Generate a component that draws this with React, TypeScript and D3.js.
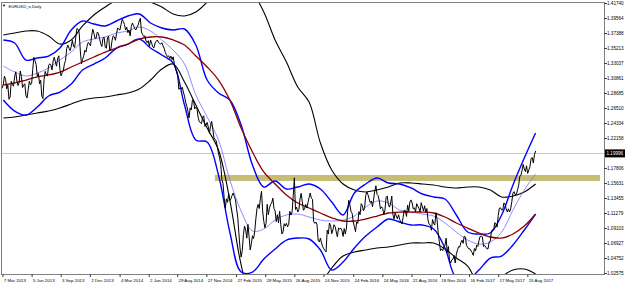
import React from "react";
import * as d3 from "d3";

// ---- data ----
const title = "EURUSD_e,Daily";
const firstWeek = "2013-03-08"; // weekly closes start here, one value per week
const closes = [
  // 2013
  1.3005, 1.3075, 1.299, 1.2815, 1.3, 1.311, 1.305, 1.303, 1.3115, 1.299, 1.2835, 1.293, 1.2995,
  1.322, 1.3345, 1.312, 1.301, 1.283, 1.307, 1.314, 1.3275, 1.328, 1.334, 1.3325, 1.338, 1.322,
  1.317, 1.33, 1.3525, 1.3525, 1.3555, 1.355, 1.3685, 1.38, 1.3485, 1.3365, 1.3495, 1.3555, 1.359,
  1.3705, 1.3745, 1.3675, 1.374,
  // 2014
  1.359, 1.367, 1.354, 1.368, 1.3485, 1.3635, 1.369, 1.374, 1.38, 1.387, 1.391, 1.379, 1.375,
  1.3705, 1.389, 1.381, 1.383, 1.392, 1.376, 1.3695, 1.363, 1.3635, 1.3645, 1.3545, 1.36, 1.3645,
  1.3595, 1.3605, 1.3525, 1.343, 1.3415, 1.341, 1.34, 1.324, 1.313, 1.295, 1.296, 1.283, 1.2685,
  1.2515, 1.263, 1.276, 1.267, 1.2525, 1.245, 1.2525, 1.239, 1.245, 1.229, 1.2465, 1.2225, 1.218,
  // 2015
  1.2, 1.184, 1.1565, 1.1205, 1.129, 1.1315, 1.139, 1.1375, 1.1195, 1.0845, 1.0495, 1.082, 1.089,
  1.097, 1.06, 1.0805, 1.087, 1.12, 1.12, 1.145, 1.1015, 1.0985, 1.111, 1.126, 1.135, 1.1165,
  1.111, 1.116, 1.083, 1.098, 1.0985, 1.097, 1.1105, 1.1385, 1.1185, 1.115, 1.134, 1.13, 1.1195,
  1.121, 1.136, 1.135, 1.1015, 1.1005, 1.074, 1.077, 1.0645, 1.059, 1.0885, 1.099, 1.0835, 1.0965,
  // 2016
  1.086, 1.092, 1.0915, 1.0795, 1.083, 1.1155, 1.1255, 1.113, 1.0935, 1.1005, 1.1155, 1.127, 1.117,
  1.139, 1.14, 1.1285, 1.1225, 1.1455, 1.1405, 1.131, 1.1225, 1.1115, 1.1365, 1.1255, 1.128, 1.1115,
  1.1135, 1.105, 1.104, 1.0975, 1.1175, 1.1085, 1.116, 1.1325, 1.1195, 1.1155, 1.1235, 1.115, 1.1225,
  1.124, 1.12, 1.097, 1.0885, 1.0985, 1.114, 1.085, 1.059, 1.059, 1.0665, 1.056, 1.045, 1.0455, 1.052,
  // 2017
  1.053, 1.0645, 1.0705, 1.0695, 1.0785, 1.064, 1.0615, 1.056, 1.062, 1.067, 1.0735, 1.08, 1.065,
  1.064, 1.0615, 1.0725, 1.0895, 1.0995, 1.093, 1.1205, 1.118, 1.128, 1.1195, 1.1195, 1.1195, 1.1425,
  1.14, 1.147, 1.1665, 1.175, 1.1775, 1.182, 1.176, 1.1925, 1.186, 1.2035,
];
// mid-week closes (one per week, half a week before each weekly close)
const midweek = [
  // 2013
  1.2945, 1.312, 1.2935, 1.2785, 1.3045, 1.2975, 1.3185, 1.2985, 1.3195, 1.2955, 1.301, 1.2805, 1.3045,
  1.301, 1.3395, 1.329, 1.316, 1.306, 1.2795, 1.319, 1.3125, 1.33, 1.321, 1.3395, 1.3265, 1.3415,
  1.3125, 1.32, 1.335, 1.357, 1.349, 1.364, 1.3535, 1.381, 1.3755, 1.33, 1.341, 1.347, 1.361,
  1.356, 1.38, 1.3665, 1.376,
  // 2014
  1.3665, 1.355, 1.3685, 1.3525, 1.37, 1.3515, 1.3705, 1.364, 1.382, 1.379, 1.3945, 1.387, 1.383,
  1.379, 1.384, 1.3855, 1.379, 1.386, 1.396, 1.3725, 1.3705, 1.3605, 1.355, 1.3595, 1.353, 1.3625,
  1.361, 1.3585, 1.356, 1.3465, 1.34, 1.3375, 1.336, 1.33, 1.318, 1.293, 1.2935, 1.289, 1.274,
  1.2615, 1.266, 1.2775, 1.2645, 1.265, 1.246, 1.243, 1.2545, 1.241, 1.2385, 1.24, 1.235, 1.2205,
  // 2015
  1.2095, 1.1935, 1.162, 1.136, 1.134, 1.1415, 1.134, 1.1425, 1.1325, 1.1075, 1.063, 1.059, 1.0945,
  1.077, 1.0795, 1.069, 1.0765, 1.105, 1.126, 1.1345, 1.1165, 1.092, 1.126, 1.1205, 1.128, 1.12,
  1.101, 1.099, 1.0965, 1.086, 1.0945, 1.0935, 1.116, 1.115, 1.1645, 1.122, 1.1185, 1.142, 1.1175,
  1.126, 1.1285, 1.1425, 1.1335, 1.0985, 1.0965, 1.0715, 1.07, 1.0615, 1.057, 1.083, 1.095, 1.089,
  // 2016
  1.094, 1.079, 1.09, 1.088, 1.091, 1.0915, 1.132, 1.116, 1.1005, 1.0865, 1.0985, 1.111, 1.1245,
  1.1205, 1.144, 1.134, 1.131, 1.134, 1.153, 1.1385, 1.1195, 1.12, 1.118, 1.138, 1.122, 1.138,
  1.105, 1.109, 1.111, 1.1005, 1.107, 1.117, 1.125, 1.1295, 1.128, 1.121, 1.127, 1.1205, 1.1285,
  1.1165, 1.114, 1.103, 1.096, 1.104, 1.096, 1.1035, 1.0715, 1.0615, 1.0645, 1.077, 1.065, 1.041, 1.0465,
  // 2017
  1.041, 1.06, 1.064, 1.074, 1.08, 1.0665, 1.0615, 1.0585, 1.052, 1.0585, 1.065, 1.0795, 1.079,
  1.0665, 1.0615, 1.0715, 1.087, 1.089, 1.098, 1.11, 1.121, 1.118, 1.1265, 1.115, 1.115, 1.13,
  1.1445, 1.14, 1.153, 1.168, 1.184, 1.1735, 1.171, 1.1805, 1.194, 1.198,
];

// indicator lines, one value every 5 weeks
const bandStepWeeks = 5;
const maRed = [
  1.2992, 1.3021, 1.3064, 1.3108, 1.3137, 1.318, 1.3253, 1.3325, 1.3398, 1.347, 1.3528, 1.3586,
  1.3659, 1.3688, 1.3688, 1.3645, 1.3572, 1.3412, 1.3253, 1.3064, 1.2774, 1.2368, 1.202, 1.173,
  1.1556, 1.1396, 1.128, 1.1208, 1.1135, 1.1063, 1.1019, 1.1019, 1.1048, 1.1091, 1.1135, 1.1149,
  1.1149, 1.1149, 1.1135, 1.1077, 1.099, 1.0917, 1.0845, 1.0787, 1.0772, 1.083, 1.0946, 1.112,
];
const blueUpper = [
  1.3645, 1.3601, 1.3354, 1.3383, 1.3412, 1.3528, 1.379, 1.392, 1.3877, 1.3848, 1.392, 1.3993,
  1.4022, 1.3891, 1.3819, 1.379, 1.3804, 1.3572, 1.3064, 1.2876, 1.2774, 1.2411, 1.1831, 1.1512,
  1.1599, 1.1483, 1.1512, 1.1556, 1.1483, 1.1294, 1.1106, 1.1425, 1.1556, 1.1643, 1.157, 1.1556,
  1.1498, 1.1411, 1.1367, 1.1338, 1.1106, 1.0859, 1.083, 1.0845, 1.1106, 1.1541, 1.1932, 1.2295,
];
const blueLower = [
  1.2774, 1.2614, 1.2556, 1.2672, 1.2832, 1.289, 1.3006, 1.3209, 1.3296, 1.3383, 1.3528, 1.3586,
  1.3659, 1.3528, 1.3427, 1.3311, 1.2701, 1.2194, 1.2165, 1.1686, 1.0859, 1.0279, 1.0279, 1.0467,
  1.0613, 1.0743, 1.0772, 1.0758, 1.0598, 1.0308, 1.0424, 1.0627, 1.0801, 1.0932, 1.1048, 1.1004,
  1.0961, 1.0961, 1.0903, 1.0627, 1.0192, 1.0163, 1.0308, 1.0482, 1.0511, 1.0671, 1.0888, 1.112,
];
const blueMiddle = [
  1.3267, 1.318, 1.3122, 1.3166, 1.3238, 1.3354, 1.347, 1.3616, 1.3659, 1.3688, 1.3746, 1.3775,
  1.3833, 1.3775, 1.3645, 1.3499, 1.3296, 1.2847, 1.2528, 1.2194, 1.1614, 1.1164, 1.0874, 1.0903,
  1.1033, 1.1106, 1.112, 1.1077, 1.1033, 1.1019, 1.1033, 1.1091, 1.1222, 1.1309, 1.128, 1.1178,
  1.1149, 1.112, 1.1091, 1.099, 1.0859, 1.0743, 1.0685, 1.0714, 1.0859, 1.1178, 1.1469, 1.1701,
];
const blackUpper = [
  1.3717, 1.3746, 1.3775, 1.3775, 1.3703, 1.3586, 1.3645, 1.3848, 1.4007, 1.4123, 1.4225, 1.4283,
  1.4268, 1.4196, 1.4123, 1.4022, 1.3993, 1.4051, 1.4196, 1.4399, 1.4515, 1.4486, 1.4341, 1.4051,
  1.3645, 1.3325, 1.2963, 1.2745, 1.215, 1.1759, 1.1556, 1.1469, 1.144, 1.1469, 1.1512, 1.157,
  1.157, 1.1556, 1.1541, 1.1512, 1.1498, 1.1512, 1.1512, 1.1469, 1.1367, 1.1382, 1.144, 1.1556,
];
const blackLower = [
  1.2513, 1.2527, 1.2556, 1.2585, 1.2614, 1.2658, 1.2716, 1.2774, 1.2803, 1.2818, 1.2847, 1.2876,
  1.2934, 1.3064, 1.3224, 1.3296, 1.3035, 1.2701, 1.2368, 1.2049, 1.1323, 1.0381, 0.9801, 0.9583,
  0.9511, 0.9511, 0.9583, 0.9801, 1.0091, 1.0337, 1.0511, 1.0569, 1.0598, 1.0627, 1.0642, 1.0671,
  1.07, 1.07, 1.07, 1.0613, 1.0482, 1.0366, 1.0091, 1.0018, 1.0207, 1.0308, 1.0323, 1.025,
];

const priceLabels = [
  "1.41740", "1.39564", "1.37388", "1.35213", "1.33037", "1.30861", "1.28685", "1.26510", "1.24334",
  "1.22158", "1.17806", "1.15631", "1.13455", "1.11279", "1.09103", "1.06927", "1.04752", "1.02575",
];
const dateLabels = [
  "7 Mar 2013", "5 Jun 2013", "3 Sep 2013", "2 Dec 2013", "4 Mar 2014", "2 Jun 2014", "29 Aug 2014",
  "27 Nov 2014", "27 Feb 2015", "28 May 2015", "26 Aug 2015", "24 Nov 2015", "24 Feb 2016",
  "24 May 2016", "22 Aug 2016", "18 Nov 2016", "16 Feb 2017", "17 May 2017", "15 Aug 2017",
];
const currentPrice = 1.19996;
const zoneTop = 1.1686;
const zoneBottom = 1.16;
const zoneFrom = "2014-12-22";
const zoneTo = "2018-03-26";

const W = 625;
const H = 286;
const FONT = "'Liberation Sans', Arial, sans-serif";

export default function App() {
  const DAY = 864e5;
  const t0 = d3.timeParse("%Y-%m-%d")(firstWeek) as Date;
  const weeksFrom = (d: Date) => (d.getTime() - t0.getTime()) / (7 * DAY);
  const parseLabel = d3.timeParse("%d %b %Y");
  const parseIso = d3.timeParse("%Y-%m-%d");

  const plot = { left: 1.5, top: 2.5, right: 604.5, bottom: 274.5 };
  const x = d3.scaleLinear().domain([0, 235]).range([3.3, 535.6]);
  const y = d3.scaleLinear().domain([1.02575, 1.4174]).range([273.5, 3.5]);

  const pricePoints: [number, number][] = [];
  closes.forEach((c, i) => {
    pricePoints.push([i - 0.5, midweek[i]]);
    pricePoints.push([i, c]);
  });
  const priceLine = d3
    .line<[number, number]>()
    .x((d) => x(d[0]))
    .y((d) => y(d[1]));
  const bandLine = d3
    .line<number>()
    .x((_, k) => x(k * bandStepWeeks))
    .y((d) => y(d))
    .curve(d3.curveCatmullRom.alpha(0.5));

  const zx0 = x(weeksFrom(parseIso(zoneFrom) as Date));
  const zx1 = x(weeksFrom(parseIso(zoneTo) as Date));

  return (
    <svg
      width={W}
      height={H}
      viewBox={`0 0 ${W} ${H}`}
      style={{ position: "fixed", left: 0, top: 0, display: "block", background: "#fff" }}
    >
      <defs>
        <clipPath id="plotClip">
          <rect x={plot.left} y={plot.top} width={plot.right - plot.left} height={plot.bottom - plot.top} />
        </clipPath>
      </defs>
      <rect x={0} y={0} width={W} height={H} fill="#fff" />

      <g clipPath="url(#plotClip)">
        <line
          x1={plot.left}
          x2={plot.right}
          y1={Math.round(y(currentPrice)) + 0.5}
          y2={Math.round(y(currentPrice)) + 0.5}
          stroke="#c8c8c8"
          strokeWidth={1}
        />
        <rect
          x={zx0}
          y={y(zoneTop)}
          width={zx1 - zx0}
          height={y(zoneBottom) - y(zoneTop)}
          fill="#c6bc73"
        />
        <path d={bandLine(blackUpper) || ""} fill="none" stroke="#000" strokeWidth={1.1} />
        <path d={bandLine(blackLower) || ""} fill="none" stroke="#000" strokeWidth={1.1} />
        <path d={bandLine(blueMiddle) || ""} fill="none" stroke="#7070ff" strokeWidth={0.8} />
        <path d={bandLine(blueUpper) || ""} fill="none" stroke="#0000ff" strokeWidth={1.4} />
        <path d={bandLine(blueLower) || ""} fill="none" stroke="#0000ff" strokeWidth={1.4} />
        <path d={bandLine(maRed) || ""} fill="none" stroke="#8b0000" strokeWidth={1.3} />
        <path d={priceLine(pricePoints) || ""} fill="none" stroke="#000" strokeWidth={1} strokeLinejoin="round" />
      </g>

      <rect
        x={plot.left}
        y={plot.top}
        width={plot.right - plot.left}
        height={plot.bottom - plot.top}
        fill="none"
        stroke="#808080"
        strokeWidth={1}
      />

      <path d="M2.6,4.8 L5.4,4.8 L4,6.8 Z" fill="#000" />
      <text x={8.5} y={8.2} fontFamily={FONT} fontSize={4.2} fill="#000">
        {title}
      </text>

      {priceLabels.map((s) => {
        const yy = y(+s);
        return (
          <g key={s}>
            <line x1={plot.right} x2={plot.right + 2.5} y1={yy} y2={yy} stroke="#000" strokeWidth={0.8} />
            <text x={607} y={yy + 1.6} fontFamily={FONT} fontSize={4.6} fill="#000">
              {s}
            </text>
          </g>
        );
      })}
      <rect x={605} y={y(currentPrice) - 4} width={20} height={8} fill="#000" />
      <text x={606.5} y={y(currentPrice) + 1.6} fontFamily={FONT} fontSize={4.6} fill="#fff">
        {currentPrice.toFixed(5)}
      </text>

      {dateLabels.map((s) => {
        const xx = x(weeksFrom(parseLabel(s) as Date));
        return (
          <g key={s}>
            <line x1={xx} x2={xx} y1={plot.bottom} y2={plot.bottom + 2.5} stroke="#000" strokeWidth={0.8} />
            <text x={xx + 0.8} y={281.8} fontFamily={FONT} fontSize={4.4} fill="#000">
              {s}
            </text>
          </g>
        );
      })}
    </svg>
  );
}
